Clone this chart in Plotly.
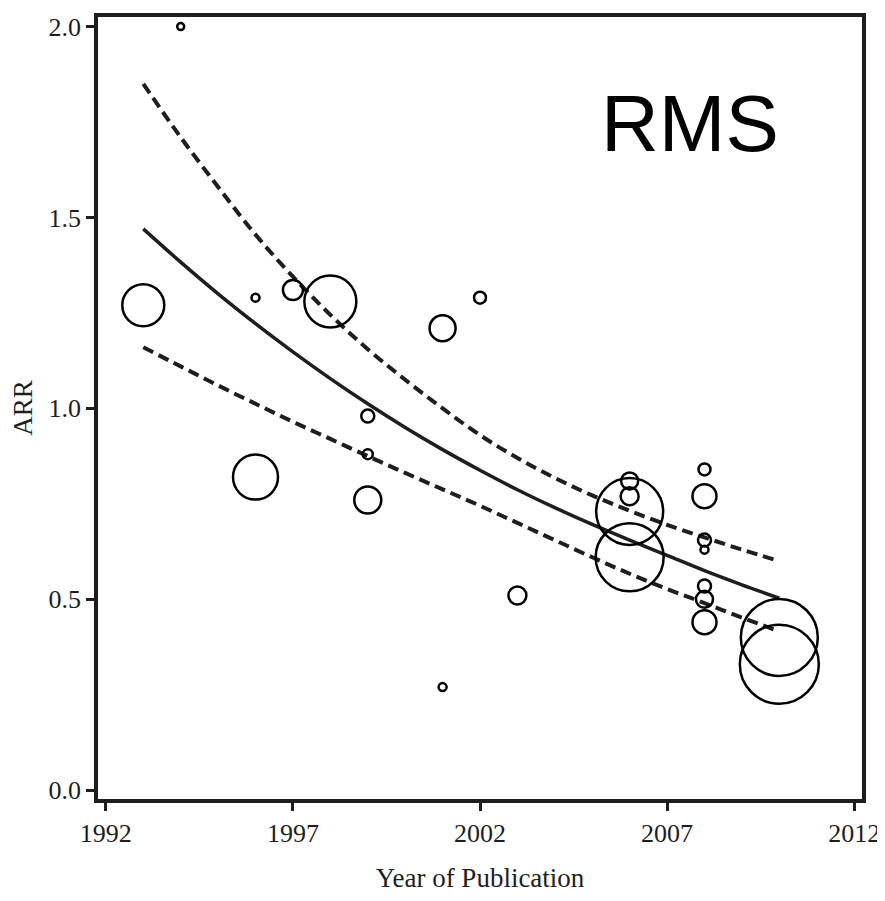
import plotly.graph_objects as go

# Study bubbles: year of publication, ARR, bubble diameter (px)
study_year = [1993, 1994, 1996, 1996, 1997, 1998, 1999, 1999, 1999, 2001, 2001, 2002, 2003,
              2006, 2006, 2006, 2006, 2008, 2008, 2008, 2008, 2008, 2008, 2008, 2010, 2010]
study_arr = [1.27, 2.00, 1.29, 0.82, 1.31, 1.28, 0.98, 0.88, 0.76, 1.21, 0.27, 1.29, 0.51,
             0.81, 0.77, 0.73, 0.61, 0.84, 0.77, 0.655, 0.63, 0.535, 0.50, 0.44, 0.40, 0.33]
study_size = [42, 7, 8, 45, 20, 52, 13, 10, 27, 26, 8, 12, 18,
              17, 18, 67, 68, 12, 24, 13, 8, 13, 17, 24, 77, 79]

# Meta-regression fit and confidence band
fit_year = [1993, 1994, 1995, 1996, 1997, 1998, 1999, 2000, 2001, 2002, 2003, 2004, 2005,
            2006, 2007, 2008, 2009, 2010]
fit_mid = [1.47, 1.383, 1.300, 1.222, 1.148, 1.078, 1.012, 0.950, 0.892, 0.838, 0.787, 0.740,
           0.696, 0.655, 0.615, 0.575, 0.538, 0.503]
fit_upper = [1.85, 1.71, 1.58, 1.455, 1.345, 1.245, 1.155, 1.075, 1.00, 0.93, 0.87, 0.818, 0.772,
             0.732, 0.695, 0.662, 0.63, 0.60]
fit_lower = [1.16, 1.11, 1.06, 1.012, 0.965, 0.92, 0.875, 0.831, 0.788, 0.745, 0.70, 0.655, 0.61,
             0.567, 0.527, 0.49, 0.452, 0.416]

x_ticks = [1992, 1997, 2002, 2007, 2012]
y_ticks = [0.0, 0.5, 1.0, 1.5, 2.0]
y_tick_text = ["0.0", "0.5", "1.0", "1.5", "2.0"]

ink = "#1e1e1e"

fig = go.Figure()
fig.add_trace(go.Scatter(x=fit_year, y=fit_upper, mode="lines", line_shape="spline",
                         line=dict(color=ink, width=4, dash="11px,6px"), showlegend=False))
fig.add_trace(go.Scatter(x=fit_year, y=fit_lower, mode="lines", line_shape="spline",
                         line=dict(color=ink, width=4, dash="11px,6px"), showlegend=False))
fig.add_trace(go.Scatter(x=fit_year, y=fit_mid, mode="lines", line_shape="spline",
                         line=dict(color=ink, width=3.5), showlegend=False))
fig.add_trace(go.Scatter(x=study_year, y=study_arr, mode="markers",
                         marker=dict(size=study_size, color="rgba(255,255,255,0)",
                                     opacity=1,
                                     line=dict(color="#000000", width=2.5)),
                         showlegend=False))

fig.add_annotation(x=2007.6, y=1.745, xref="x", yref="y", text="RMS", showarrow=False,
                   font=dict(family="Liberation Sans, Arial", size=80, color="black"),
                   xanchor="center", yanchor="middle")

serif = "Liberation Serif, Times New Roman"
axis_font = dict(family=serif, size=26, color=ink)
fig.update_xaxes(range=[1991.79, 2012.21], tickvals=x_ticks, ticks="outside", ticklen=8,
                 tickwidth=3, tickcolor=ink, showline=True, linewidth=3.5, linecolor=ink,
                 mirror=True, showgrid=False, zeroline=False, tickfont=axis_font,
                 title=dict(text="Year of Publication",
                            font=dict(family=serif, size=27, color=ink), standoff=22))
fig.update_yaxes(range=[-0.023, 2.025], tickvals=y_ticks, ticktext=y_tick_text, ticks="outside",
                 ticklen=8, tickwidth=3, tickcolor=ink, showline=True, linewidth=3.5,
                 linecolor=ink, mirror=True, showgrid=False, zeroline=False, tickfont=axis_font,
                 title=dict(text="ARR", font=dict(family=serif, size=27, color=ink), standoff=10))

# page body has an 8px margin, so the figure is sized/offset to land the frame in place
fig.update_layout(width=877, height=893, plot_bgcolor="white", paper_bgcolor="white",
                  margin=dict(l=90, r=21, t=5, b=102))

fig.write_html("out.html")
